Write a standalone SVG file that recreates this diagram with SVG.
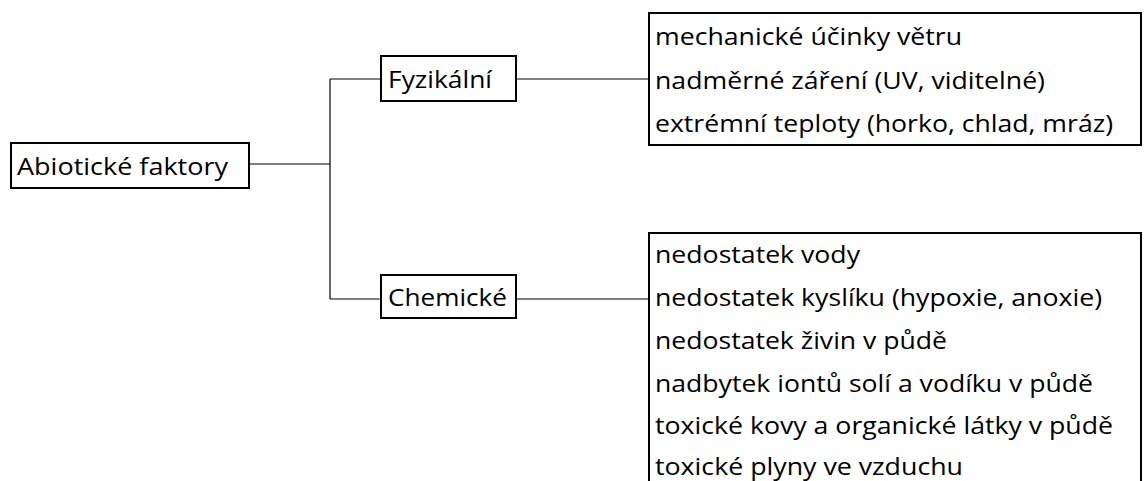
<svg xmlns="http://www.w3.org/2000/svg" width="1145" height="481" viewBox="0 0 1145 481">
  <style>
    .box { fill: #ffffff; stroke: #000000; stroke-width: 2; }
    .wire { fill: none; stroke: #000000; stroke-width: 1.2; }
    .lbl { font-family: "Open Sans", "Noto Sans", "DejaVu Sans", sans-serif; font-size: 24.5px; fill: #000000; }
  </style>
  <rect width="1145" height="481" fill="#ffffff"/>

  <!-- connectors -->
  <g id="connectors">
    <path class="wire" d="M249,164 H330"/>
    <path class="wire" d="M330,79 V299" stroke="#444444"/>
    <path class="wire" d="M330,79 H381"/>
    <path class="wire" d="M330,299 H381"/>
    <path class="wire" d="M516,79 H649"/>
    <path class="wire" d="M516,299 H649"/>
  </g>

  <!-- root -->
  <g id="abioticke-faktory">
    <rect class="box" x="11" y="143" width="238" height="45"/>
    <text class="lbl" x="17" y="175" textLength="211" lengthAdjust="spacingAndGlyphs">Abiotické faktory</text>
  </g>

  <!-- branches -->
  <g id="fyzikalni">
    <rect class="box" x="381" y="56" width="135" height="45"/>
    <text class="lbl" x="388" y="88" textLength="104" lengthAdjust="spacingAndGlyphs">Fyzikální</text>
  </g>
  <g id="chemicke">
    <rect class="box" x="381" y="275" width="135" height="43"/>
    <text class="lbl" x="388" y="306" textLength="119" lengthAdjust="spacingAndGlyphs">Chemické</text>
  </g>

  <!-- physical factors list -->
  <g id="fyzikalni-seznam">
    <rect class="box" x="649" y="13" width="492" height="132"/>
    <text class="lbl" x="655" y="45" textLength="307" lengthAdjust="spacingAndGlyphs">mechanické účinky větru</text>
    <text class="lbl" x="655" y="89" textLength="390" lengthAdjust="spacingAndGlyphs">nadměrné záření (UV, viditelné)</text>
    <text class="lbl" x="655" y="132" textLength="458" lengthAdjust="spacingAndGlyphs">extrémní teploty (horko, chlad, mráz)</text>
  </g>

  <!-- chemical factors list -->
  <g id="chemicke-seznam">
    <rect class="box" x="649" y="233" width="492" height="260"/>
    <text class="lbl" x="655" y="263" textLength="205" lengthAdjust="spacingAndGlyphs">nedostatek vody</text>
    <text class="lbl" x="655" y="306" textLength="447" lengthAdjust="spacingAndGlyphs">nedostatek kyslíku (hypoxie, anoxie)</text>
    <text class="lbl" x="655" y="349" textLength="292" lengthAdjust="spacingAndGlyphs">nedostatek živin v půdě</text>
    <text class="lbl" x="655" y="392" textLength="438" lengthAdjust="spacingAndGlyphs">nadbytek iontů solí a vodíku v půdě</text>
    <text class="lbl" x="655" y="434" textLength="458" lengthAdjust="spacingAndGlyphs">toxické kovy a organické látky v půdě</text>
    <text class="lbl" x="655" y="475" textLength="308" lengthAdjust="spacingAndGlyphs">toxické plyny ve vzduchu</text>
  </g>
</svg>
